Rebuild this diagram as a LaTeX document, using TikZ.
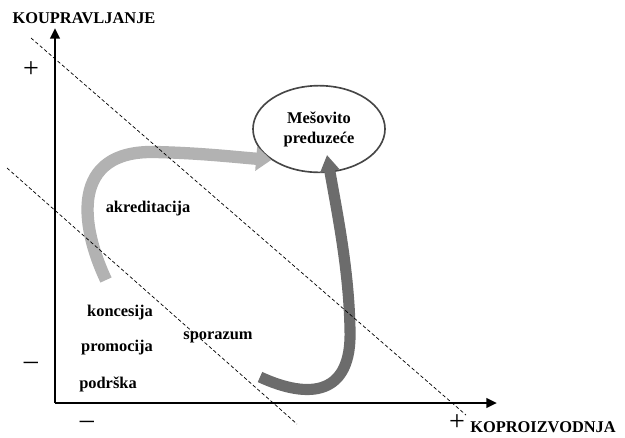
\documentclass[tikz,border=0pt]{standalone}
\usepackage{fontspec}
\setmainfont{Liberation Serif}
\usetikzlibrary{shapes.geometric,arrows.meta}

\begin{document}
\begin{tikzpicture}[x=0.03cm, y=-0.03cm,
  lbl/.style={font=\fontsize{14}{17}\selectfont\bfseries},
  sgn/.style={font=\fontsize{24}{26}\selectfont, inner sep=0pt},
  guide/.style={densely dashed, line width=0.6pt},
  axis/.style={line width=2.2pt, -{Triangle[width=8pt,length=9pt]}}]
\useasboundingbox (0,0) rectangle (625,437);

% axes
\coordinate (o) at (55,403);
\coordinate (ytop) at (55,28);
\coordinate (xend) at (497,403);
\node[lbl] (yname) at (84,18) {KOUPRAVLJANJE};
\node[lbl] (xname) at (543,427) {KOPROIZVODNJA};
\node[sgn] (yplus) at (31,70) {+};
\node[sgn] (yminus) at (31,366) {–};
\node[sgn] (xminus) at (87,425) {–};
\node[sgn] (xplus) at (457,423) {+};

% target
\node[ellipse, draw=gray!55!black, line width=1.4pt, minimum width=3.96cm,
      minimum height=2.6cm, align=center, lbl] (mp) at (319,129) {Mešovito\\preduzeće};

% instruments
\node[lbl] (akr) at (148,209) {akreditacija};
\node[lbl] (kon) at (120,313) {koncesija};
\node[lbl] (pro) at (117,348) {promocija};
\node[lbl] (pod) at (108,384) {podrška};
\node[lbl] (spo) at (218,337) {sporazum};

% ribbons
\coordinate (t1) at (106,280);
\coordinate (t2) at (260,377);
\coordinate (h2) at (327,155);
\draw[line width=10.5pt, gray!60, -{Triangle[width=20pt,length=13pt]}]
  (t1) .. controls (80,225) and (70,150) .. (155,152)
       .. controls (200,153) and (235,157) .. (mp.213);
\draw[line width=9.5pt, gray!85!black, -{Triangle[width=16pt,length=14pt]}]
  (t2) .. controls (310,400) and (352,395) .. (350,330)
       .. controls (349,270) and (337,212) .. (h2);

% iso lines
\coordinate (d1a) at (31,38);
\coordinate (d1b) at (466,415);
\coordinate (d2a) at (7,168);
\coordinate (d2b) at (297,424);
\draw[guide] (d1a) -- (d1b);
\draw[guide] (d2a) -- (d2b);

\draw[axis] (o) -- (ytop);
\draw[axis] (o) -- (xend);

\end{tikzpicture}
\end{document}
